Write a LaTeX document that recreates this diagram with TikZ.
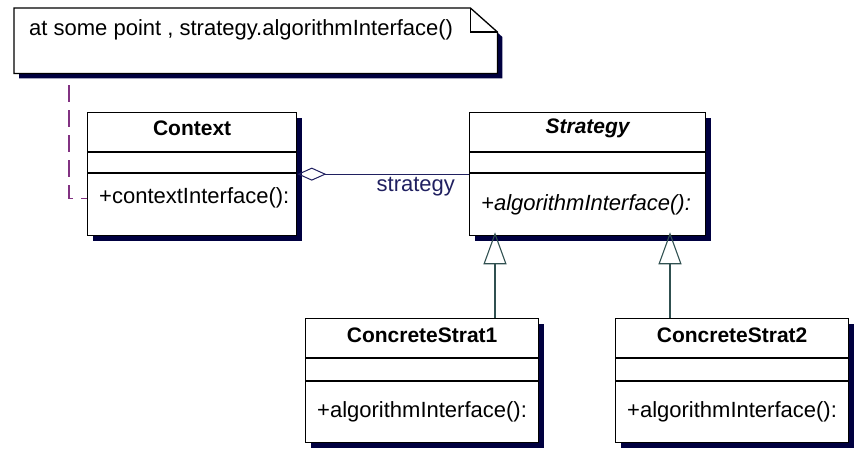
\documentclass[tikz,border=0pt]{standalone}
\usepackage{fontspec}
\setmainfont{Liberation Sans}
\usepackage{tikz}
\usetikzlibrary{arrows.meta, positioning, calc, shadows}
\definecolor{shadowblue}{RGB}{0,0,64}
\definecolor{linknavy}{RGB}{32,32,96}
\definecolor{notepurple}{RGB}{130,50,130}
\definecolor{genslate}{RGB}{48,80,80}

\begin{document}
\begin{tikzpicture}[
  x=1pt, y=-1pt,
  font=\fontsize{22}{26}\selectfont,
  classbox/.style={rectangle, draw, line width=1.3pt, fill=white, minimum height=123pt, inner sep=0pt, anchor=north west, drop shadow={shadow xshift=5pt, shadow yshift=-5pt, fill=shadowblue, opacity=1}},
  ctitle/.style={font=\fontsize{21}{25}\selectfont\bfseries, inner sep=0pt},
  cop/.style={anchor=west, inner sep=0pt},
  sep/.style={line width=1.1pt},
  agg/.style={{Diamond[open, length=29pt, width=13pt]}-, line width=1pt, linknavy},
  gen/.style={-{Triangle[open, length=32pt, width=23pt]}, line width=1.1pt, genslate},
  notelink/.style={notepurple, line width=1.3pt, dash pattern=on 17pt off 8pt},
  rolelbl/.style={text=linknavy, inner sep=1pt},
]
\useasboundingbox (0,0) rectangle (861,458);

% ── NOTE (top left) ──
\node[rectangle, minimum width=483pt, minimum height=65pt, inner sep=0pt, anchor=north west] (note) at (14,8) {};
\fill[shadowblue] ([xshift=5pt,yshift=-5pt]note.north west) -- ([xshift=-22pt,yshift=-5pt]note.north east) -- ([xshift=5pt,yshift=-29pt]note.north east) -- ([xshift=5pt,yshift=-5pt]note.south east) -- ([xshift=5pt,yshift=-5pt]note.south west) -- cycle;
\draw[line width=1.3pt, fill=white] (note.north west) -- ([xshift=-27pt]note.north east) -- ([yshift=-24pt]note.north east) -- (note.south east) -- (note.south west) -- cycle;
\draw[line width=1.1pt] ([xshift=-27pt]note.north east) |- ([yshift=-24pt]note.north east);
\node[anchor=west, inner sep=0pt] (note_txt) at ([xshift=15pt, yshift=-22pt]note.north west) {at some point , strategy.algorithmInterface()};

% ── CLASSES (top row) ──
\node[classbox, minimum width=209pt] (context) at (87,112) {};
\node[ctitle] (context_t) at ([yshift=-16pt]context.north) {Context};
\draw[sep] ([yshift=-40pt]context.north west) -- ([yshift=-40pt]context.north east);
\draw[sep] ([yshift=-61pt]context.north west) -- ([yshift=-61pt]context.north east);
\node[cop] (context_op) at ([xshift=12pt, yshift=-86pt]context.north west) {+contextInterface():};

\node[classbox, minimum width=236pt] (strategy) at (469,112) {};
\node[ctitle, font=\fontsize{21}{25}\selectfont\bfseries\itshape] (strategy_t) at ([yshift=-16pt]strategy.north) {Strategy};
\draw[sep] ([yshift=-40pt]strategy.north west) -- ([yshift=-40pt]strategy.north east);
\draw[sep] ([yshift=-61pt]strategy.north west) -- ([yshift=-61pt]strategy.north east);
\node[cop, font=\fontsize{22}{26}\selectfont\itshape] (strategy_op) at ([xshift=12pt, yshift=-93pt]strategy.north west) {+algorithmInterface():};

% ── CLASSES (bottom row) ──
\node[classbox, minimum width=233pt, minimum height=124pt] (cs1) at (305,318) {};
\node[ctitle] (cs1_t) at ([yshift=-17pt]cs1.north) {ConcreteStrat1};
\draw[sep] ([yshift=-40pt]cs1.north west) -- ([yshift=-40pt]cs1.north east);
\draw[sep] ([yshift=-63pt]cs1.north west) -- ([yshift=-63pt]cs1.north east);
\node[cop] (cs1_op) at ([xshift=12pt, yshift=-94pt]cs1.north west) {+algorithmInterface():};

\node[classbox, minimum width=233pt, minimum height=124pt] (cs2) at (615,318) {};
\node[ctitle] (cs2_t) at ([yshift=-17pt]cs2.north) {ConcreteStrat2};
\draw[sep] ([yshift=-40pt]cs2.north west) -- ([yshift=-40pt]cs2.north east);
\draw[sep] ([yshift=-63pt]cs2.north west) -- ([yshift=-63pt]cs2.north east);
\node[cop] (cs2_op) at ([xshift=12pt, yshift=-94pt]cs2.north west) {+algorithmInterface():};

% ── RELATIONSHIPS ──
% Note -> Context (dashed anchor)
\draw[notelink] ([xshift=55pt, yshift=-12pt]note.south west) |- ([yshift=-24pt]context.west);

% Context <>- Strategy (aggregation)
\draw[agg] (context.east) -- node[rolelbl, pos=0.69, below=2pt]{strategy} (strategy.west);

% ConcreteStrat1/2 -> Strategy (generalisation)
\coordinate (g1) at ([xshift=190pt]cs1.north west);
\coordinate (g2) at ([xshift=55pt]cs2.north west);
\draw[gen, shorten >=-4pt] (g1) -- (g1 |- strategy.south);
\draw[gen, shorten >=-4pt] (g2) -- (g2 |- strategy.south);

\end{tikzpicture}
\end{document}
